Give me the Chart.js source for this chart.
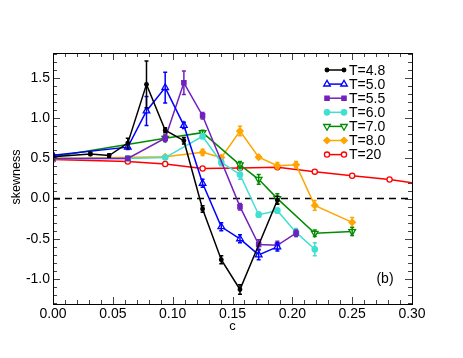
<!DOCTYPE html>
<html>
<head>
<meta charset="utf-8">
<script src="https://cdn.jsdelivr.net/npm/chart.js@4.4.0/dist/chart.umd.min.js"></script>
<style>
  html, body { margin: 0; padding: 0; background: #fff; }
  canvas { display: block; }
</style>
</head>
<body>
<canvas id="skewChart" width="463" height="358"></canvas>
<script>
// concentration c, skewness and error bar for each temperature
const c48 = [0, 0.03125, 0.046875, 0.0625, 0.078125, 0.09375, 0.109375, 0.125, 0.140625, 0.15625, 0.1875];
const s48 = [0.52, 0.555, 0.535, 0.69, 1.42, 0.85, 0.72, -0.13, -0.76, -1.13, -0.02];
const e48 = [0.02, 0.02, 0.02, 0.06, 0.29, 0.03, 0.04, 0.04, 0.05, 0.06, 0.05];

const c50 = [0, 0.0625, 0.078125, 0.09375, 0.109375, 0.125, 0.140625, 0.15625, 0.171875, 0.1875];
const s50 = [0.54, 0.64, 1.09, 1.38, 0.91, 0.19, -0.35, -0.50, -0.70, -0.60];
const e50 = [0.02, 0.03, 0.18, 0.19, 0.04, 0.05, 0.05, 0.05, 0.06, 0.05];

const c55 = [0, 0.0625, 0.09375, 0.109375, 0.125, 0.15625, 0.171875, 0.1875, 0.203125];
const s55 = [0.50, 0.50, 0.75, 1.44, 1.03, -0.10, -0.57, -0.58, -0.43];
const e55 = [0.02, 0.02, 0.04, 0.145, 0.04, 0.04, 0.06, 0.05, 0.04];

const c60 = [0, 0.0625, 0.09375, 0.125, 0.140625, 0.15625, 0.171875, 0.1875, 0.203125, 0.21875];
const s60 = [0.50, 0.50, 0.51, 0.775, 0.45, 0.30, -0.20, -0.15, -0.42, -0.63];
const e60 = [0.02, 0.02, 0.02, 0.03, 0.04, 0.06, 0.03, 0.03, 0.05, 0.08];

const c70 = [0, 0.09375, 0.125, 0.15625, 0.171875, 0.1875, 0.21875, 0.25];
const s70 = [0.52, 0.75, 0.82, 0.42, 0.24, 0.0, -0.43, -0.41];
const e70 = [0.02, 0.04, 0.03, 0.04, 0.06, 0.06, 0.04, 0.05];

const c80 = [0, 0.09375, 0.125, 0.140625, 0.15625, 0.171875, 0.1875, 0.203125, 0.21875, 0.25];
const s80 = [0.50, 0.52, 0.575, 0.51, 0.84, 0.515, 0.41, 0.42, -0.085, -0.295];
const e80 = [0.02, 0.02, 0.04, 0.02, 0.06, 0.02, 0.04, 0.04, 0.06, 0.06];

const c20 = [0, 0.0625, 0.09375, 0.125, 0.15625, 0.1875, 0.21875, 0.25, 0.28125, 0.3125];
const s20 = [0.485, 0.46, 0.43, 0.375, 0.38, 0.39, 0.335, 0.285, 0.237, 0.17];
const e20 = [0, 0, 0, 0, 0, 0, 0, 0, 0, 0];

const xTickLabels = [0, 0.05, 0.10, 0.15, 0.20, 0.25, 0.30];
const yTickLabels = [-1.0, -0.5, 0.0, 0.5, 1.0, 1.5];

const FONT = "'Liberation Sans', Arial, Helvetica, sans-serif";
Chart.defaults.font.family = FONT;
Chart.defaults.color = '#000';

function makeSet(label, cs, vals, errs, color, style) {
    return Object.assign({
        label: label,
        data: cs.map((c, i) => ({ x: c, y: vals[i] })),
        errors: errs,
        borderColor: color,
        backgroundColor: color,
        pointBorderColor: color,
        borderWidth: 1.5,
        pointBorderWidth: 1.3,
        tension: 0,
        fill: false
    }, style);
}

const datasets = [
    makeSet('T=4.8', c48, s48, e48, '#000000', { pointStyle: 'circle', pointRadius: 1.8 }),
    makeSet('T=5.0', c50, s50, e50, '#0000ff', { pointStyle: 'triangle', pointRadius: 3.8, pointBackgroundColor: '#fff' }),
    makeSet('T=5.5', c55, s55, e55, '#7221bc', { pointStyle: 'rect', pointRadius: 3 }),
    makeSet('T=6.0', c60, s60, e60, '#40e0d0', { pointStyle: 'circle', pointRadius: 2.7 }),
    makeSet('T=7.0', c70, s70, e70, '#008b00', { pointStyle: 'triangle', pointRotation: 180, pointRadius: 3.8, pointBackgroundColor: '#fff' }),
    makeSet('T=8.0', c80, s80, e80, '#ffa500', { pointStyle: 'rectRot', pointRadius: 3.2 }),
    makeSet('T=20', c20, s20, e20, '#ff0000', { pointStyle: 'circle', pointRadius: 2.6, pointBackgroundColor: '#fff' })
];

const decorPlugin = {
    id: 'decor',
    beforeDatasetsDraw(chart) {
        // dashed zero line
        const ctx = chart.ctx, a = chart.chartArea;
        const y0 = chart.scales.y.getPixelForValue(0);
        ctx.save();
        ctx.strokeStyle = '#000';
        ctx.lineWidth = 1.5;
        ctx.setLineDash([7, 5]);
        ctx.beginPath();
        ctx.moveTo(a.left, y0);
        ctx.lineTo(a.right, y0);
        ctx.stroke();
        ctx.restore();
    },
    afterDatasetDraw(chart, args) {
        // error bars for this dataset
        const ds = chart.data.datasets[args.index];
        const ys = chart.scales.y;
        const ctx = chart.ctx, a = chart.chartArea;
        ctx.save();
        ctx.beginPath();
        ctx.rect(a.left, a.top, a.right - a.left, a.bottom - a.top);
        ctx.clip();
        ctx.strokeStyle = ds.borderColor;
        ctx.lineWidth = 1.5;
        args.meta.data.forEach((pt, i) => {
            const err = ds.errors[i];
            if (!err) return;
            const v = ds.data[i].y;
            const yt = ys.getPixelForValue(v + err);
            const yb = ys.getPixelForValue(v - err);
            ctx.beginPath();
            ctx.moveTo(pt.x, yt); ctx.lineTo(pt.x, yb);
            ctx.moveTo(pt.x - 2, yt); ctx.lineTo(pt.x + 2, yt);
            ctx.moveTo(pt.x - 2, yb); ctx.lineTo(pt.x + 2, yb);
            ctx.stroke();
        });
        ctx.restore();
    },
    afterDraw(chart) {
        const ctx = chart.ctx, a = chart.chartArea;
        const xs = chart.scales.x, ys = chart.scales.y;
        ctx.save();

        // inward tick marks on all four sides
        ctx.strokeStyle = '#444';
        ctx.lineWidth = 1;
        ctx.beginPath();
        for (let i = 0; i <= 30; i++) {
            const px = Math.round(xs.getPixelForValue(i / 100)) + 0.5;
            const len = i % 5 === 0 ? 7 : 4;
            ctx.moveTo(px, a.bottom); ctx.lineTo(px, a.bottom - len);
            ctx.moveTo(px, a.top); ctx.lineTo(px, a.top + len);
        }
        for (let i = -13; i <= 18; i++) {
            const py = Math.round(ys.getPixelForValue(i / 10)) + 0.5;
            const len = i % 5 === 0 ? 7 : 4;
            ctx.moveTo(a.left, py); ctx.lineTo(a.left + len, py);
            ctx.moveTo(a.right, py); ctx.lineTo(a.right - len, py);
        }
        ctx.stroke();

        // frame
        ctx.strokeStyle = '#000';
        ctx.lineWidth = 1;
        ctx.strokeRect(Math.round(a.left) + 0.5, Math.round(a.top) + 0.5,
            Math.round(a.right - a.left), Math.round(a.bottom - a.top));

        // legend: line with a marker at each end
        const helpers = Chart.helpers;
        chart.data.datasets.forEach((ds, i) => {
            const y = 70 + i * 14.1;
            ctx.strokeStyle = ds.borderColor;
            ctx.lineWidth = 1.5;
            ctx.beginPath();
            ctx.moveTo(327, y); ctx.lineTo(344, y);
            ctx.stroke();
            [327, 344].forEach(x => {
                ctx.fillStyle = ds.pointBackgroundColor || ds.backgroundColor;
                ctx.strokeStyle = ds.borderColor;
                ctx.lineWidth = 1.3;
                helpers.drawPoint(ctx, {
                    pointStyle: ds.pointStyle,
                    radius: ds.pointRadius,
                    rotation: ds.pointRotation || 0,
                    borderWidth: 1.3
                }, x, y);
            });
            ctx.fillStyle = '#000';
            ctx.font = '14px ' + FONT;
            ctx.textAlign = 'left';
            ctx.textBaseline = 'middle';
            ctx.fillText(ds.label, 349, y + 1);
        });

        // axis titles and panel label
        ctx.fillStyle = '#000';
        ctx.textAlign = 'center';
        ctx.textBaseline = 'middle';
        ctx.font = '13px ' + FONT;
        ctx.fillText('c', (a.left + a.right) / 2, 326);
        ctx.font = '14px ' + FONT;
        ctx.fillText('(b)', 385, 279);
        ctx.save();
        ctx.translate(17, 177);
        ctx.rotate(-Math.PI / 2);
        ctx.font = '12.5px ' + FONT;
        ctx.fillText('skewness', 0, 0);
        ctx.restore();

        ctx.restore();
    }
};

new Chart(document.getElementById('skewChart'), {
    type: 'line',
    data: { datasets: datasets },
    options: {
        responsive: false,
        animation: false,
        layout: { padding: { top: 53, right: 51, left: 0, bottom: 0 } },
        plugins: { legend: { display: false }, tooltip: { enabled: false } },
        scales: {
            x: {
                type: 'linear',
                min: 0,
                max: 0.30,
                grid: { display: false, drawTicks: false },
                border: { display: false },
                afterFit: s => { s.height = 54; },
                afterBuildTicks: s => { s.ticks = xTickLabels.map(v => ({ value: v })); },
                ticks: {
                    font: { size: 14 },
                    color: '#000',
                    padding: 2,
                    maxRotation: 0,
                    callback: v => Number(v).toFixed(2)
                }
            },
            y: {
                type: 'linear',
                min: -1.31,
                max: 1.81,
                grid: { display: false, drawTicks: false },
                border: { display: false },
                afterFit: s => { s.width = 53; },
                afterBuildTicks: s => { s.ticks = yTickLabels.map(v => ({ value: v })); },
                ticks: {
                    font: { size: 14 },
                    color: '#000',
                    padding: 3,
                    callback: v => Number(v).toFixed(1)
                }
            }
        }
    },
    plugins: [decorPlugin]
});
</script>
</body>
</html>
